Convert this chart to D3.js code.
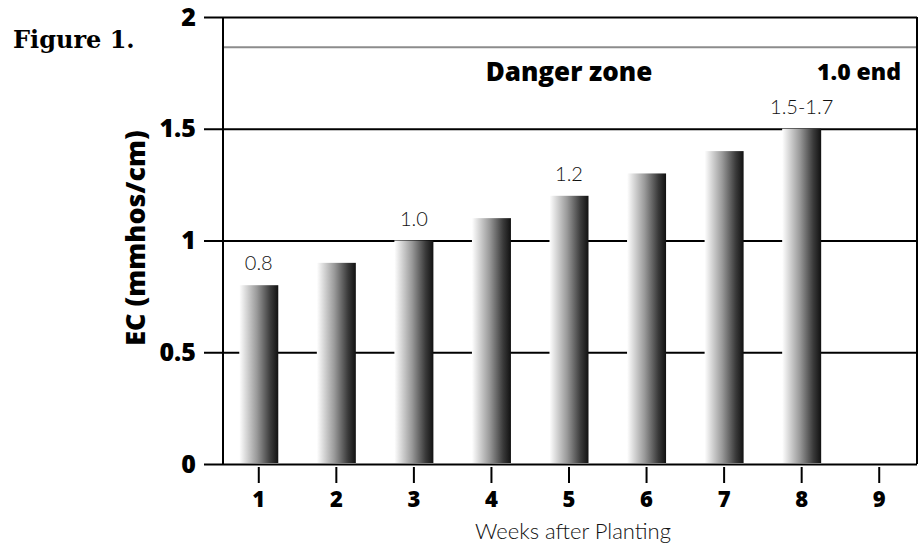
<!DOCTYPE html>
<html>
<head>
<meta charset="utf-8">
<script src="https://cdn.jsdelivr.net/npm/d3@7"></script>
<style>
  body { margin: 0; background: #fff; }
  svg { display: block; }
  .bold { font-family: "Open Sans", sans-serif; font-weight: 800; fill: #000; }
  .light { font-family: "Lato", sans-serif; font-weight: 300; fill: #111; }
</style>
</head>
<body>
<div id="vis"></div>
<script>
const weeks = [1, 2, 3, 4, 5, 6, 7, 8, 9];
const ecValues = [0.8, 0.9, 1.0, 1.1, 1.2, 1.3, 1.4, 1.5];
const barLabels = ["0.8", "", "1.0", "", "1.2", "", "", "1.5-1.7"];
const yTicks = [0, 0.5, 1, 1.5, 2];
const dangerLine = 1.865;

const WIDTH = 920;
const HEIGHT = 544;
const LEFT = 223;
const RIGHT = 917;
const GRID_LEFT = 204;
const TOP = 17;
const BOTTOM = 464;
const BAR_WIDTH = 39;

const x = d3.scaleBand(weeks, [220, 918]);
const y = d3.scaleLinear([0, 2], [BOTTOM, TOP]);

const svg = d3.select("#vis")
              .append("svg")
                .attr("width", WIDTH)
                .attr("height", HEIGHT);

const grad = svg.append("defs")
                .append("linearGradient")
                  .attr("id", "barGrad")
                  .attr("x1", "0%").attr("x2", "100%")
                  .attr("y1", "0%").attr("y2", "0%");
grad.append("stop").attr("offset", "0%").attr("stop-color", "#ffffff");
grad.append("stop").attr("offset", "45%").attr("stop-color", "#9a9a9a");
grad.append("stop").attr("offset", "80%").attr("stop-color", "#3a3a3a");
grad.append("stop").attr("offset", "100%").attr("stop-color", "#111111");

// y axis drawn from the right edge so the ticks become the gridlines
const yAxis = d3.axisLeft(y)
                .tickValues(yTicks)
                .tickSizeInner(RIGHT - GRID_LEFT)
                .tickSizeOuter(0)
                .tickPadding(8)
                .tickFormat(d3.format(""));

const gy = svg.append("g")
              .attr("transform", `translate(${RIGHT}, 0)`)
              .call(yAxis);
gy.select(".domain").remove();
gy.selectAll(".tick line").attr("stroke", "#000").attr("stroke-width", 2);
gy.selectAll(".tick text")
  .attr("class", "bold")
  .style("font-size", "25px");

// danger threshold
svg.append("line")
   .attr("x1", LEFT).attr("x2", RIGHT)
   .attr("y1", y(dangerLine)).attr("y2", y(dangerLine))
   .attr("stroke", "#8c8c8c")
   .attr("stroke-width", 2);

// frame
svg.append("line")
   .attr("x1", LEFT).attr("x2", LEFT)
   .attr("y1", TOP).attr("y2", BOTTOM)
   .attr("stroke", "#000").attr("stroke-width", 2);
svg.append("line")
   .attr("x1", RIGHT).attr("x2", RIGHT)
   .attr("y1", TOP).attr("y2", BOTTOM)
   .attr("stroke", "#000").attr("stroke-width", 2);

svg.selectAll("rect.bar")
   .data(ecValues)
   .enter()
   .append("rect")
     .attr("class", "bar")
     .attr("x", (d, i) => x(weeks[i]) + x.bandwidth() / 2 - BAR_WIDTH / 2)
     .attr("y", d => y(d))
     .attr("width", BAR_WIDTH)
     .attr("height", d => y(0) - y(d) - 1)
     .attr("fill", "url(#barGrad)");

svg.selectAll("text.val")
   .data(ecValues)
   .enter()
   .append("text")
     .attr("class", "light")
     .attr("x", (d, i) => x(weeks[i]) + x.bandwidth() / 2)
     .attr("y", d => y(d) - 15)
     .attr("text-anchor", "middle")
     .style("font-size", "20px")
     .text((d, i) => barLabels[i]);

// x axis
const xAxis = d3.axisBottom(x)
                .tickSizeInner(16)
                .tickSizeOuter(0)
                .tickPadding(8);

const gx = svg.append("g")
              .attr("transform", `translate(0, ${BOTTOM + 3})`)
              .call(xAxis);
gx.select(".domain").remove();
gx.selectAll(".tick line").attr("stroke", "#000").attr("stroke-width", 2);
gx.selectAll(".tick text")
  .attr("class", "bold")
  .style("font-size", "22px");

svg.append("text")
   .attr("class", "light")
   .attr("x", (LEFT + RIGHT) / 2 + 3)
   .attr("y", 539)
   .attr("text-anchor", "middle")
   .style("font-size", "22px")
   .text("Weeks after Planting");

svg.append("text")
   .attr("class", "bold")
   .attr("transform", "translate(145, 238) rotate(-90)")
   .attr("text-anchor", "middle")
   .style("font-size", "27px")
   .text("EC (mmhos/cm)");

svg.append("text")
   .attr("class", "bold")
   .attr("x", 569)
   .attr("y", 81)
   .attr("text-anchor", "middle")
   .style("font-size", "26px")
   .text("Danger zone");

svg.append("text")
   .attr("class", "bold")
   .attr("x", 901)
   .attr("y", 80)
   .attr("text-anchor", "end")
   .style("font-size", "23px")
   .text("1.0 end");

svg.append("text")
   .attr("x", 13)
   .attr("y", 48)
   .style("font-family", "'DejaVu Serif', serif")
   .style("font-weight", "bold")
   .style("font-size", "24px")
   .text("Figure 1.");
</script>
</body>
</html>
